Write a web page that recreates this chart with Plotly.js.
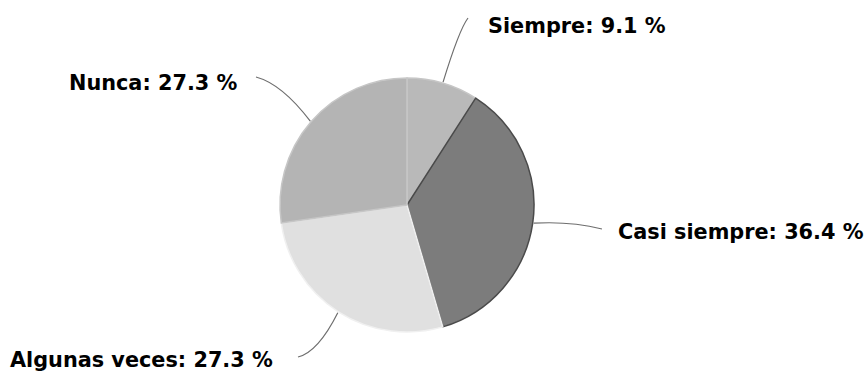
<!DOCTYPE html>
<html>
<head>
<meta charset="utf-8">
<script src="https://cdn.plot.ly/plotly-3.0.1.min.js"></script>
<style>
html,body{margin:0;padding:0;background:#fff;}
#chart{width:868px;height:375px;}
</style>
</head>
<body>
<div id="chart"></div>
<script>
// Data
var categories = ["Siempre", "Casi siempre", "Algunas veces", "Nunca"];
var values = [9.1, 36.4, 27.3, 27.3];
var sliceColors = ["#b9b9b9", "#7c7c7c", "#e0e0e0", "#b4b4b4"];
var lineColors = ["#c6c6c6", "#4a4a4a", "#f0f0f0", "#c6c6c6"];

var W = 868, H = 375;
var cx = 407, cy = 205, R = 127;
function px(x){ return x / W; }
function py(y){ return 1 - y / H; }

// Label layout (positions are styling, not data)
var labelLayout = [
  {left: 486, mid: 26,  end: [468, 18],  ctrl: [459, 30]},
  {left: 616, mid: 232, end: [602, 229], ctrl: [570, 221]},
  {left: 8,   mid: 360, end: [298, 357], ctrl: [318, 352]},
  {left: 67,  mid: 83,  end: [256, 77],  ctrl: [282, 84]}
];

var total = values.reduce(function(a,b){return a+b;}, 0);
var annotations = [], shapes = [];
var cum = 0;
for (var i = 0; i < values.length; i++) {
  var midFrac = (cum + values[i] / 2) / total;
  cum += values[i];
  var ang = midFrac * 2 * Math.PI; // clockwise from top
  var sx = cx + (R + 1) * Math.sin(ang);
  var sy = cy - (R + 1) * Math.cos(ang);
  var L = labelLayout[i];
  shapes.push({
    type: "path", xref: "paper", yref: "paper",
    path: "M " + px(sx) + "," + py(sy) + " Q " + px(L.ctrl[0]) + "," + py(L.ctrl[1]) + " " + px(L.end[0]) + "," + py(L.end[1]),
    line: {color: "#6e6e6e", width: 1.2}
  });
  annotations.push({
    xref: "paper", yref: "paper",
    x: px(L.left), y: py(L.mid),
    xanchor: "left", yanchor: "middle",
    showarrow: false,
    text: "<b>" + categories[i] + ": " + values[i].toFixed(1) + " %</b>",
    font: {family: "DejaVu Sans", size: 20.8, color: "#000"}
  });
}

var trace = {
  type: "pie",
  labels: categories,
  values: values,
  sort: false,
  direction: "clockwise",
  rotation: 0,
  textinfo: "none",
  hoverinfo: "label+percent",
  marker: {colors: sliceColors, line: {color: lineColors, width: 1.5}},
  domain: {x: [px(cx - R), px(cx + R)], y: [py(cy + R), py(cy - R)]},
  showlegend: false
};

var layout = {
  width: W, height: H,
  margin: {l: 0, r: 0, t: 0, b: 0},
  paper_bgcolor: "#ffffff",
  plot_bgcolor: "#ffffff",
  showlegend: false,
  annotations: annotations,
  shapes: shapes
};

Plotly.newPlot("chart", [trace], layout, {displayModeBar: false, staticPlot: true});
</script>
</body>
</html>
